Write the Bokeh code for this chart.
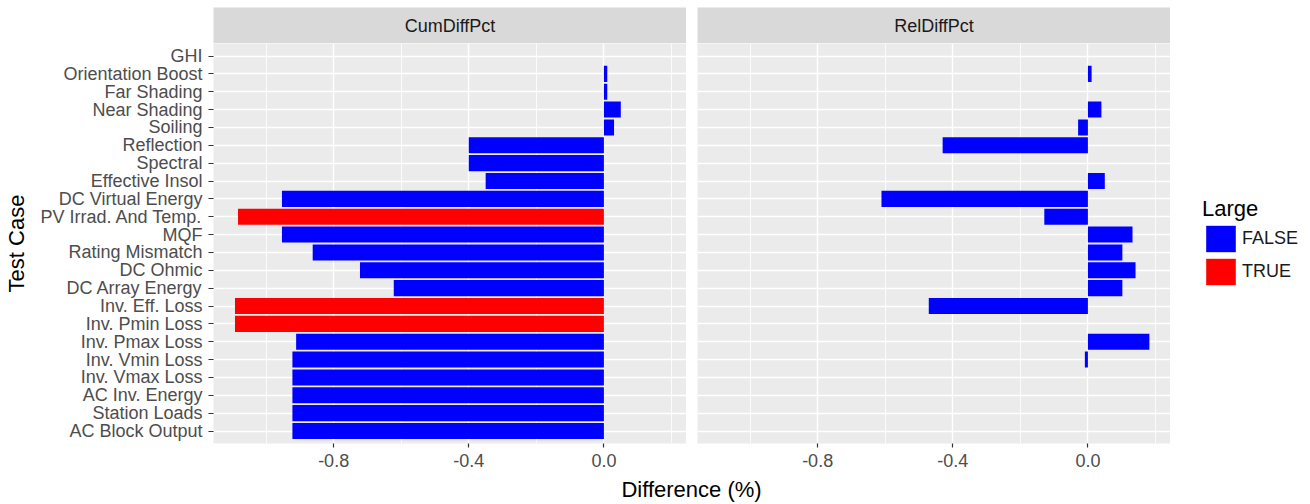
from bokeh.plotting import figure
from bokeh.models import (ColumnDataSource, CDSView, GroupFilter, FactorRange, Range1d,
                          FixedTicker, CustomJSTickFormatter, Legend, LegendItem, Label)
from bokeh.layouts import column, row
from bokeh.embed import file_html
from bokeh.resources import INLINE

# ---------------- data ----------------
cases = ["GHI", "Orientation Boost", "Far Shading", "Near Shading", "Soiling", "Reflection",
         "Spectral", "Effective Insol", "DC Virtual Energy", "PV Irrad. And Temp.", "MQF",
         "Rating Mismatch", "DC Ohmic", "DC Array Energy", "Inv. Eff. Loss", "Inv. Pmin Loss",
         "Inv. Pmax Loss", "Inv. Vmin Loss", "Inv. Vmax Loss", "AC Inv. Energy",
         "Station Loads", "AC Block Output"]
cum_diff = [0.0, 0.01, 0.01, 0.05, 0.03, -0.40, -0.40, -0.35, -0.953, -1.083, -0.953,
            -0.862, -0.722, -0.622, -1.092, -1.092, -0.911, -0.922, -0.922, -0.922,
            -0.922, -0.922]
cum_large = ["FALSE"] * 9 + ["TRUE"] + ["FALSE"] * 4 + ["TRUE", "TRUE"] + ["FALSE"] * 6
rel_diff = [0.0, 0.011, 0.0, 0.04, -0.029, -0.43, 0.0, 0.05, -0.611, -0.129, 0.132,
            0.102, 0.141, 0.102, -0.471, 0.0, 0.182, -0.009, 0.0, 0.0, 0.0, 0.0]
rel_large = ["FALSE"] * 22
panels = ["CumDiffPct", "RelDiffPct"]
x_ticks = [-0.8, -0.4, 0.0]
x_minor = [-1.0, -0.6, -0.2, 0.2]
legend_levels = ["FALSE", "TRUE"]
colors = {"FALSE": "#0000FF", "TRUE": "#FF0000"}

FONT = "Liberation Sans"
x_lo, x_hi = -1.1556, 0.2445


def make_strip(text, width, left, right):
    s = figure(width=width, height=43, x_range=Range1d(0, 1), y_range=Range1d(0, 1),
               toolbar_location=None, output_backend="svg",
               min_border_left=left, min_border_right=right, min_border_top=7,
               min_border_bottom=0)
    s.axis.visible = False
    s.grid.visible = False
    s.outline_line_color = None
    s.background_fill_color = "#D9D9D9"
    s.border_fill_color = "white"
    s.add_layout(Label(x=0.5, y=0.5, text=text, text_align="center", text_baseline="middle",
                       text_font=FONT, text_font_size="18px", text_color="#1A1A1A"))
    return s


def add_bars(p, src):
    rends = {}
    for lvl in legend_levels:
        view = CDSView(filter=GroupFilter(column_name="large", group=lvl))
        rends[lvl] = p.hbar(y="case", left=0, right="val", height=0.9, source=src, view=view,
                            fill_color=colors[lvl], line_color=None)
    return rends


def make_panel(vals, large, width, left, right, show_y):
    src = ColumnDataSource(dict(case=cases, val=vals, large=large))
    p = figure(width=width, height=430, y_range=FactorRange(factors=list(reversed(cases)),
               range_padding=0.2, range_padding_units="absolute"),
               x_range=Range1d(x_lo, x_hi), toolbar_location=None, output_backend="svg",
               min_border_left=left, min_border_right=right, min_border_top=0,
               min_border_bottom=30)
    p.background_fill_color = "#EBEBEB"
    p.border_fill_color = "white"
    p.outline_line_color = None
    add_bars(p, src)
    p.xaxis.ticker = FixedTicker(ticks=x_ticks, minor_ticks=x_minor)
    p.xaxis.formatter = CustomJSTickFormatter(code="return tick.toFixed(1)")
    for ax in [p.xaxis[0], p.yaxis[0]]:
        ax.axis_line_color = None
        ax.major_tick_line_color = "#333333"
        ax.major_tick_line_width = 1.2
        ax.major_tick_in = 0
        ax.minor_tick_line_color = None
        ax.major_label_text_font = FONT
        ax.major_label_text_font_size = "18px"
        ax.major_label_text_color = "#4D4D4D"
    p.xaxis.major_tick_out = 4
    p.xaxis.major_label_standoff = 6
    p.yaxis.major_tick_out = 5
    p.yaxis.major_label_standoff = 6
    p.xgrid.grid_line_color = "white"
    p.xgrid.grid_line_width = 1.4
    p.xgrid.minor_grid_line_color = "white"
    p.xgrid.minor_grid_line_width = 0.8
    p.ygrid.grid_line_color = "white"
    p.ygrid.grid_line_width = 1.4
    if show_y:
        p.yaxis.axis_label = "Test Case"
        p.yaxis.axis_label_text_font = FONT
        p.yaxis.axis_label_text_font_size = "22px"
        p.yaxis.axis_label_text_font_style = "normal"
        p.yaxis.axis_label_text_color = "black"
        p.yaxis.axis_label_standoff = 8
    else:
        p.yaxis.visible = False
    return p, src


stripL = make_strip(panels[0], 686, 213, 0)
stripR = make_strip(panels[1], 484, 11, 0)
pL, srcL = make_panel(cum_diff, cum_large, 686, 213, 0, True)
pR, srcR = make_panel(rel_diff, rel_large, 484, 11, 0, False)

# legend column: hidden renderers, only the legend shows
lfig = figure(width=140, height=430, x_range=Range1d(x_lo, x_hi),
              y_range=FactorRange(factors=list(reversed(cases))),
              toolbar_location=None, output_backend="svg", min_border=0)
lfig.axis.visible = False
lfig.grid.visible = False
lfig.outline_line_color = None
lfig.background_fill_color = "white"
lfig.border_fill_color = "white"
lr = add_bars(lfig, srcL)
for r in lr.values():
    r.visible = False
legend = Legend(items=[LegendItem(label=lvl, renderers=[lr[lvl]]) for lvl in legend_levels],
                title="Large", location=(32, 155), margin=0, padding=10,
                glyph_width=37, glyph_height=33, label_standoff=3, spacing=0,
                title_text_font=FONT, title_text_font_size="22px", title_text_color="black",
                title_text_font_style="normal", title_standoff=0, title_text_line_height=1.0,
                label_text_font=FONT, label_text_font_size="18px", label_text_color="#1A1A1A",
                border_line_color=None, background_fill_color=None)
lfig.add_layout(legend)
lstrip = figure(width=140, height=43, toolbar_location=None, output_backend="svg",
                min_border=0)
lstrip.axis.visible = False
lstrip.grid.visible = False
lstrip.outline_line_color = None
lstrip.background_fill_color = "white"

tfig = figure(width=1310, height=31, x_range=Range1d(0, 1310), y_range=Range1d(0, 31),
              toolbar_location=None, output_backend="svg", min_border=0)
tfig.axis.visible = False
tfig.grid.visible = False
tfig.outline_line_color = None
tfig.background_fill_color = "white"
tfig.add_layout(Label(x=691, y=15, text="Difference (%)", text_align="center",
                      text_baseline="middle", text_font=FONT, text_font_size="22px",
                      text_color="black"))

layout = column(row(stripL, stripR, lstrip), row(pL, pR, lfig), tfig)
open("out.html", "w").write(file_html(layout, INLINE))
